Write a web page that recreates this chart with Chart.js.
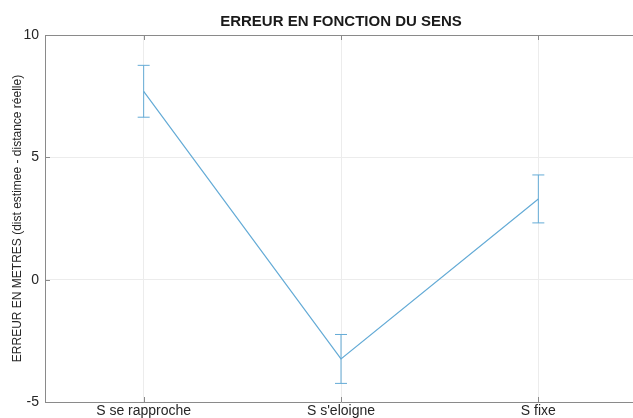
<!DOCTYPE html>
<html>
<head>
<meta charset="utf-8">
<script src="https://cdn.jsdelivr.net/npm/chart.js@4.4.0/dist/chart.umd.min.js"></script>
<style>
  html, body { margin: 0; padding: 0; background: #fff; overflow: hidden; }
  #wrap { width: 633px; height: 418px; overflow: hidden; }
</style>
</head>
<body>
<div id="wrap"><canvas id="chart" width="645" height="430"></canvas></div>
<script>
// data
const categories = ['S se rapproche', "S s'eloigne", 'S fixe']
const erreurMoyenne = [7.7, -3.24, 3.3]
const erreurEcart = [1.06, 1.0, 0.98]
const yTicks = [-5, 0, 5, 10]
const titre = 'ERREUR EN FONCTION DU SENS'

const lineColor = '#64abd6'
const axisColor = '#8a8a8a'

// error bars + box top line + inward ticks + title centred over the axes
const errorBars = {
  id: 'errorBars',
  afterDatasetsDraw(chart) {
    const ctx = chart.ctx
    const xs = chart.scales.x
    const ys = chart.scales.y
    ctx.save()
    ctx.strokeStyle = lineColor
    ctx.lineWidth = 1
    erreurMoyenne.forEach((v, i) => {
      const x = xs.getPixelForValue(i + 1)
      const yt = ys.getPixelForValue(v + erreurEcart[i])
      const yb = ys.getPixelForValue(v - erreurEcart[i])
      ctx.beginPath()
      ctx.moveTo(x, yt); ctx.lineTo(x, yb)
      ctx.moveTo(x - 6, yt); ctx.lineTo(x + 6, yt)
      ctx.moveTo(x - 6, yb); ctx.lineTo(x + 6, yb)
      ctx.stroke()
    })
    ctx.restore()
  },
  afterDraw(chart) {
    const ctx = chart.ctx
    const a = chart.chartArea
    const xs = chart.scales.x
    const ys = chart.scales.y
    ctx.save()
    ctx.strokeStyle = axisColor
    ctx.lineWidth = 1
    ctx.beginPath()
    ctx.moveTo(a.left, a.top + 0.5); ctx.lineTo(a.right, a.top + 0.5)
    categories.forEach((c, i) => {
      const x = Math.round(xs.getPixelForValue(i + 1)) + 0.5
      ctx.moveTo(x, a.bottom); ctx.lineTo(x, a.bottom - 5)
      ctx.moveTo(x, a.top); ctx.lineTo(x, a.top + 5)
    })
    yTicks.forEach(t => {
      const y = Math.round(ys.getPixelForValue(t)) + 0.5
      ctx.moveTo(a.left, y); ctx.lineTo(a.left + 5, y)
    })
    ctx.stroke()
    // title, centred on the plot box like matlab does
    ctx.fillStyle = '#1a1a1a'
    ctx.font = 'bold 15px "Liberation Sans"'
    ctx.textAlign = 'center'
    ctx.textBaseline = 'middle'
    ctx.fillText(titre, (a.left + a.right) / 2, 22)
    ctx.restore()
  }
}

new Chart(document.getElementById('chart'), {
  type: 'line',
  data: {
    datasets: [{
      data: erreurMoyenne.map((v, i) => ({ x: i + 1, y: v })),
      borderColor: lineColor,
      borderWidth: 1.2,
      pointRadius: 0,
      tension: 0,
      fill: false
    }]
  },
  options: {
    responsive: false,
    animation: false,
    layout: { padding: { left: 4, right: 8, top: 35, bottom: 0 } },
    plugins: {
      legend: { display: false },
      tooltip: { enabled: false },
      title: { display: false }
    },
    scales: {
      x: {
        type: 'linear',
        min: 0.5,
        max: 3.5,
        afterBuildTicks: s => { s.ticks = categories.map((c, i) => ({ value: i + 1 })) },
        afterFit: s => { s.height = 28 },
        ticks: {
          callback: v => categories[v - 1],
          color: '#262626',
          font: { family: 'Liberation Sans', size: 14 },
          padding: 1,
          maxRotation: 0
        },
        grid: { color: '#ececec', drawTicks: false },
        border: { color: axisColor }
      },
      y: {
        min: -5,
        max: 10,
        afterBuildTicks: s => { s.ticks = yTicks.map(v => ({ value: v })) },
        afterFit: s => { s.width = 41 },
        ticks: {
          color: '#262626',
          font: { family: 'Liberation Sans', size: 14 },
          padding: 6
        },
        grid: { color: '#ececec', drawTicks: false },
        border: { color: axisColor },
        title: {
          display: true,
          text: 'ERREUR EN METRES (dist estimee - distance réelle)',
          color: '#262626',
          font: { family: 'Liberation Sans', size: 12 },
          padding: { top: 6, bottom: 0 }
        }
      }
    }
  },
  plugins: [errorBars]
})
</script>
</body>
</html>
